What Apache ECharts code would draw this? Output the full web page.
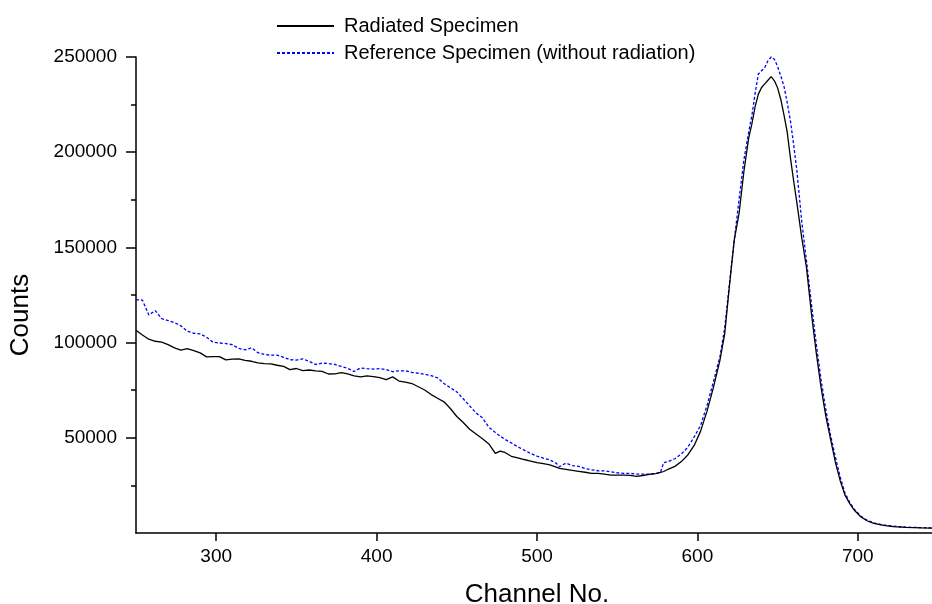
<!DOCTYPE html>
<html>
<head>
<meta charset="utf-8">
<script src="https://cdn.jsdelivr.net/npm/echarts@6/dist/echarts.min.js"></script>
<style>
  html, body { margin: 0; padding: 0; background: #fff; }
  #chart { width: 932px; height: 604px; }
</style>
</head>
<body>
<div id="chart"></div>
<script>
// channel numbers (x) shared by both spectra
const channels = [
  250, 254, 258, 262, 266, 270, 274, 278, 282, 286, 290, 294, 298, 302, 306, 310,
  314, 318, 322, 326, 330, 334, 338, 342, 346, 350, 354, 358, 362, 366, 370, 374,
  378, 382, 386, 390, 394, 398, 402, 406, 410, 414, 418, 422, 426, 430, 434, 438,
  442, 446, 450, 454, 458, 462, 466, 470, 474, 477, 480, 484, 488, 492, 496, 500,
  504, 508, 512, 514, 518, 522, 526, 530, 534, 538, 542, 546, 550, 554, 558, 562,
  566, 570, 574, 577, 579, 582, 586, 590, 594, 598, 602, 606, 610, 614, 617, 620,
  623, 626, 629, 632, 634, 636, 638, 640, 642, 644, 646, 648, 650, 652, 654, 656,
  658, 660, 662, 665, 668, 671, 674, 677, 680, 683, 686, 689, 692, 695, 698, 702,
  706, 710, 716, 722, 730, 740, 750
]

const radiated = [
  106500, 104000, 101800, 100700, 100200, 98900, 97200, 96000, 96800, 95800, 94600, 92500, 92600, 92600, 90900, 91300,
  91400, 90700, 90200, 89300, 89000, 88800, 88100, 87500, 85800, 86400, 85300, 85600, 85200, 84900, 83500, 83600,
  84200, 83600, 82500, 82000, 82500, 82100, 81600, 80600, 82000, 79800, 79200, 78500, 76800, 75100, 72700, 70800,
  68900, 65400, 61200, 58000, 54500, 52000, 49500, 46800, 41800, 43000, 42300, 40300, 39500, 38600, 37800, 37000,
  36400, 35800, 34600, 33900, 33400, 32900, 32400, 31900, 31300, 31300, 30900, 30400, 30400, 30400, 30300, 29700,
  30200, 30800, 31200, 31800, 32300, 33600, 35000, 37500, 41000, 46000, 53500, 64000, 76500, 90500, 104500, 130000,
  154000, 168000, 190000, 207500, 215000, 224000, 230500, 234000, 235900, 237800, 239700, 237500, 233800, 227700, 219500, 210500,
  197000, 185000, 173500, 155400, 139500, 116000, 95300, 77000, 61700, 49300, 37300, 27500, 19900, 15400, 11800, 8400,
  6300, 5100, 4000, 3400, 3000, 2700, 2500
]

const reference = [
  122600, 122300, 114500, 116800, 112600, 111600, 110500, 108800, 106000, 104900, 104600, 102800, 100200, 99800, 99500, 98900,
  97000, 96200, 97300, 94700, 93800, 93400, 93400, 92300, 91000, 90800, 91500, 90100, 88500, 89200, 89000, 88500,
  87500, 86500, 84800, 86700, 86300, 86100, 86400, 85800, 84700, 85200, 85200, 84300, 83900, 83400, 82600, 81500,
  78500, 76300, 74100, 70500, 66800, 63000, 60500, 55500, 52800, 50900, 49200, 47300, 45300, 43500, 41800, 40400,
  39300, 38400, 36600, 34800, 36700, 35400, 35000, 33900, 33200, 32700, 32600, 32200, 31600, 31300, 31300, 31000,
  30900, 30900, 31200, 31800, 37000, 37600, 39000, 41500, 45000, 50500, 56500, 67000, 79500, 92500, 107500, 131000,
  154000, 175300, 196000, 210700, 219500, 231000, 241100, 242800, 244500, 248000, 250000, 248800, 245000, 240000, 234500, 226000,
  216500, 204000, 190500, 164000, 143000, 121000, 100000, 81000, 65000, 51500, 40000, 29500, 21000, 16000, 12300, 8800,
  6600, 5300, 4200, 3600, 3100, 2800, 2600
]

const xTickValues = [300, 400, 500, 600, 700]
const yTickValues = [50000, 100000, 150000, 200000, 250000]
const yMinorTickValues = [25000, 75000, 125000, 175000, 225000]

const seriesNames = ['Radiated Specimen', 'Reference Specimen (without radiation)']

const FONT = '"Liberation Sans", Arial, Helvetica, sans-serif'

const chart = echarts.init(document.getElementById('chart'), null, {renderer: 'canvas'})

const option = {
  animation: false,
  backgroundColor: '#fff',
  textStyle: {fontFamily: FONT, color: '#000'},
  legend: {
    orient: 'vertical',
    left: 271,
    top: 11,
    itemWidth: 57,
    itemHeight: 14,
    itemGap: 7,
    data: seriesNames,
    itemStyle: {opacity: 0, borderWidth: 0},
    textStyle: {fontFamily: FONT, fontSize: 20, color: '#000', padding: [0, 0, 0, 5]}
  },
  grid: {
    left: 136,
    top: 57,
    width: 802,
    height: 476,
    containLabel: false,
    outerBoundsMode: 'none'
  },
  xAxis: {
    type: 'value',
    min: 250,
    max: 750,
    name: 'Channel No.',
    nameLocation: 'middle',
    nameGap: 49,
    nameTextStyle: {fontFamily: FONT, fontSize: 26, color: '#000'},
    splitLine: {show: false},
    axisLine: {lineStyle: {color: '#000', width: 1.5}},
    axisTick: {customValues: xTickValues, length: 8, lineStyle: {color: '#000', width: 1.5}},
    axisLabel: {customValues: xTickValues, margin: 14, fontSize: 19, color: '#000', fontFamily: FONT,
      formatter: v => String(v)}
  },
  yAxis: [
    {
      type: 'value',
      min: 0,
      max: 250000,
      splitLine: {show: false},
      axisLine: {show: true, lineStyle: {color: '#000', width: 1.5}},
      axisTick: {customValues: yTickValues, length: 10, lineStyle: {color: '#000', width: 1.5}},
      axisLabel: {customValues: yTickValues, margin: 19, fontSize: 19, color: '#000', fontFamily: FONT,
        formatter: v => String(v)}
    },
    {
      type: 'value',
      position: 'left',
      min: 0,
      max: 250000,
      splitLine: {show: false},
      axisLine: {show: false},
      axisTick: {show: true, customValues: yMinorTickValues, length: 5, lineStyle: {color: '#000', width: 1.5}},
      axisLabel: {show: false}
    }
  ],
  graphic: [
    {
      type: 'text',
      x: 21,
      y: 315,
      rotation: Math.PI / 2,
      style: {
        text: 'Counts',
        fontFamily: FONT,
        fontSize: 26,
        fill: '#000',
        align: 'center',
        verticalAlign: 'middle'
      }
    }
  ],
  series: [
    {
      name: seriesNames[0],
      type: 'line',
      showSymbol: false,
      symbol: 'none',
      clip: false,
      data: channels.map((c, i) => [c, radiated[i]]),
      lineStyle: {color: '#000', width: 1.3},
      itemStyle: {color: '#000'},
      z: 3
    },
    {
      name: seriesNames[1],
      type: 'line',
      showSymbol: false,
      symbol: 'none',
      clip: false,
      data: channels.map((c, i) => [c, reference[i]]),
      lineStyle: {color: '#0000ff', width: 1.3, type: [3, 2]},
      itemStyle: {color: '#0000ff'},
      z: 2
    }
  ]
}

chart.setOption(option)
</script>
</body>
</html>
